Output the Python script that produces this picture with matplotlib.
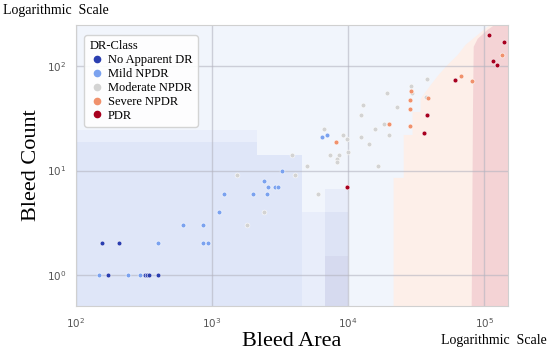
import matplotlib
matplotlib.use("Agg")
import matplotlib.pyplot as plt
from matplotlib.lines import Line2D

# scatter points per DR class (bleed area, bleed count)
no_dr_area = [155, 208, 171, 321, 333, 346, 398]
no_dr_count = [2, 2, 1, 1, 1, 1, 1]

mild_area = [398, 854, 940, 147, 242, 294, 609, 863, 1125, 1225, 2000, 2520,
             2430, 2590, 2920, 3050, 3290, 6410, 6970]
mild_count = [2, 2, 2, 1, 1, 1, 3, 3, 4, 6, 6, 6, 8, 7, 7, 7, 10, 21, 22]

moderate_area = [1820, 2400, 1528, 3890, 4070, 4970, 5990, 6610, 7380, 8500,
                 8300, 8300, 9230, 9880, 9950, 12800, 12500, 12400, 14250,
                 15800, 16700, 19400, 18200, 20000, 22900, 29000, 29600,
                 37300, 38000]
moderate_count = [3, 4, 9, 14, 9, 11, 6, 25, 14, 14, 13, 12, 22, 20, 15, 43,
                  34, 21, 18, 25, 11, 56, 28, 22, 41, 65, 55, 51, 75]

severe_area = [8130, 20000, 28400, 28400, 28400, 29100, 38500, 67000, 81300,
               135000]
severe_count = [19, 28, 27, 39, 48, 58, 50, 81, 72, 128]

pdr_area = [9780, 38000, 36200, 61500, 109000, 139000, 116000, 125000]
pdr_count = [7, 34, 23, 74, 199, 171, 112, 102]

class_names = ["No Apparent DR", "Mild NPDR", "Moderate NPDR", "Severe NPDR", "PDR"]
class_colors = ["#2a3eb0", "#7ba2ef", "#d3d3d3", "#f0916c", "#a8001f"]

# decision regions (blue side as rectangles: x0, x1, top count)
blue_x0 = [100, 100, 2140, 4570, 6780, 6780, 6780]
blue_x1 = [2140, 2140, 4570, 6780, 10000, 10000, 10000]
blue_top = [24.7, 19, 14.2, 4.0, 6.6, 4.0, 1.52]
blue_fill = ["#e9eefb", "#dfe6f8", "#dfe6f8", "#e8edfa", "#e7ecf9", "#dde3f5", "#d6daef"]

# severe / pdr region left edges (staircase)
severe_edge_x = [21400, 21400, 25400, 25400, 29500, 29500, 33800, 33800, 40100,
                 45900, 53500, 63300, 72400, 88800, 105000, 118000]
severe_edge_y = [0.5, 8.6, 8.6, 22.2, 22.2, 36.9, 36.9, 49.3, 67, 84, 105, 130,
                 163, 203, 243, 260]
pdr_edge_x = [80200, 82000, 83000, 88800, 105000, 122000]
pdr_edge_y = [0.5, 40, 156, 186, 227, 260]

x_lim = (100, 1.5e5)
y_lim = (0.5, 250)

plt.rcParams["font.family"] = ["Liberation Serif", "DejaVu Serif"]

fig = plt.figure(figsize=(5.5, 3.51), dpi=100)
ax = fig.add_axes([0.138, 0.128, 0.786, 0.801])
ax.set_xscale("log")
ax.set_yscale("log")
ax.set_facecolor("#f1f5fc")

for x0, x1, top, c in zip(blue_x0, blue_x1, blue_top, blue_fill):
    ax.fill_between([x0, x1], y_lim[0], top, color=c, lw=0, zorder=0.2)

ax.fill_betweenx(severe_edge_y, severe_edge_x, x_lim[1], color="#fdefe9", lw=0, zorder=0.2)
ax.fill_betweenx(pdr_edge_y, pdr_edge_x, x_lim[1], color="#f4d3d5", lw=0, zorder=0.3)

series = [(no_dr_area, no_dr_count), (mild_area, mild_count),
          (moderate_area, moderate_count), (severe_area, severe_count),
          (pdr_area, pdr_count)]
for (xs, ys), col in zip(series, class_colors):
    ax.scatter(xs, ys, s=12, color=col, edgecolors="white", linewidths=0.4, zorder=3)

ax.set_xlim(*x_lim)
ax.set_ylim(*y_lim)
ax.set_axisbelow(True)
ax.grid(True, which="major", color="#b4b4c0", alpha=0.6, lw=1)
ax.minorticks_off()
ax.tick_params(length=0, pad=7, labelsize=7.5, labelcolor="#555555")
for lab in ax.get_xticklabels() + ax.get_yticklabels():
    lab.set_family("DejaVu Sans")
for sp in ax.spines.values():
    sp.set_color("#d0d0d0")

ax.set_xlabel("Bleed Area", fontsize=16, labelpad=2)
ax.set_ylabel("Bleed Count", fontsize=16, labelpad=4)

handles = [Line2D([], [], marker="o", ls="", color=c, markersize=4.5) for c in class_colors]
leg = ax.legend(handles, class_names, title="DR-Class", loc="upper left",
                fontsize=9, title_fontsize=9, labelspacing=0.15, handletextpad=0.3,
                handlelength=1.2, borderpad=0.4, frameon=True, fancybox=True,
                alignment="left", bbox_to_anchor=(0.005, 0.985))
leg.get_frame().set_facecolor("white")
leg.get_frame().set_edgecolor("#d0d0d0")
leg.get_frame().set_alpha(0.9)

fig.text(0.005, 0.971, "Logarithmic  Scale", fontsize=10, va="center", ha="left")
fig.text(0.802, 0.031, "Logarithmic  Scale", fontsize=10, va="center", ha="left")

fig.savefig("out.png", dpi=100)
